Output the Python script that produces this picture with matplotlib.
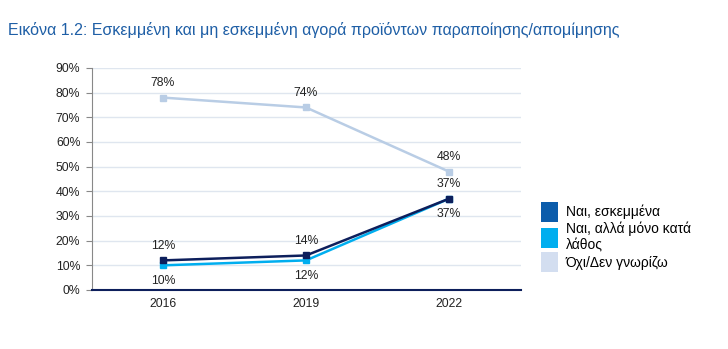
import matplotlib.pyplot as plt
from matplotlib.patches import Patch

plt.rcParams['font.family'] = ['Liberation Sans', 'DejaVu Sans']

years = ['2016', '2019', '2022']
intentional = [12, 14, 37]
by_mistake = [10, 12, 37]
no_dont_know = [78, 74, 48]

series_names = ['Ναι, εσκεμμένα', 'Ναι, αλλά μόνο κατά\nλάθος', 'Όχι/Δεν γνωρίζω']
line_colors = ['#0d1f5c', '#00aeef', '#b9cde5']
legend_colors = ['#0b5cab', '#00aeef', '#d3def0']

fig = plt.figure(figsize=(7.28, 3.49), dpi=100)
ax = fig.add_axes([91.5 / 728, (349 - 290) / 349, 429 / 728, 222 / 349])

x = range(len(years))
ax.plot(x, no_dont_know, color=line_colors[2], lw=1.8, marker='s', ms=5, zorder=3)
ax.plot(x, by_mistake, color=line_colors[1], lw=1.8, marker='s', ms=5, zorder=4)
ax.plot(x, intentional, color=line_colors[0], lw=1.8, marker='s', ms=5, zorder=5)

# value labels: top series above, cyan below, dark above
for i, v in enumerate(no_dont_know):
    ax.annotate(f'{v}%', (i, v), xytext=(0, 6), textcoords='offset points',
                ha='center', va='bottom', fontsize=8.8, color='#222222')
for i, v in enumerate(intentional):
    ax.annotate(f'{v}%', (i, v), xytext=(0, 6), textcoords='offset points',
                ha='center', va='bottom', fontsize=8.8, color='#222222')
for i, v in enumerate(by_mistake):
    ax.annotate(f'{v}%', (i, v), xytext=(0, -7), textcoords='offset points',
                ha='center', va='top', fontsize=8.8, color='#222222')

ax.set_xlim(-0.5, 2.5)
ax.set_ylim(0, 90)
ax.set_yticks(range(0, 91, 10))
ax.set_yticklabels([f'{t}%' for t in range(0, 91, 10)])
ax.set_xticks(list(x))
ax.set_xticklabels(years)
ax.tick_params(axis='both', labelsize=8.8, colors='#222222', length=0, pad=6)
ax.tick_params(axis='y', length=4, color='#888888', direction='out', pad=4)
ax.grid(axis='y', color='#dfe6ef', lw=1)
ax.set_axisbelow(True)

for side in ['top', 'right']:
    ax.spines[side].set_visible(False)
ax.spines['left'].set_color('#888888')
ax.spines['bottom'].set_color('#0d1f5c')
ax.spines['bottom'].set_linewidth(1.5)

handles = [Patch(facecolor=c, edgecolor='none') for c in legend_colors]
fig.legend(handles, series_names, loc='upper left', bbox_to_anchor=(534 / 728, 1 - 195 / 349),
           frameon=False, fontsize=10, handlelength=1.2, handleheight=1.8,
           handletextpad=0.6, labelspacing=0.0, borderpad=0)

fig.text(8 / 728, 1 - 30 / 349, 'Εικόνα 1.2: Εσκεμμένη και μη εσκεμμένη αγορά προϊόντων παραποίησης/απομίμησης',
         fontsize=11.5, color='#1f5fa6', va='center', ha='left')

fig.savefig('out.png', dpi=100)
